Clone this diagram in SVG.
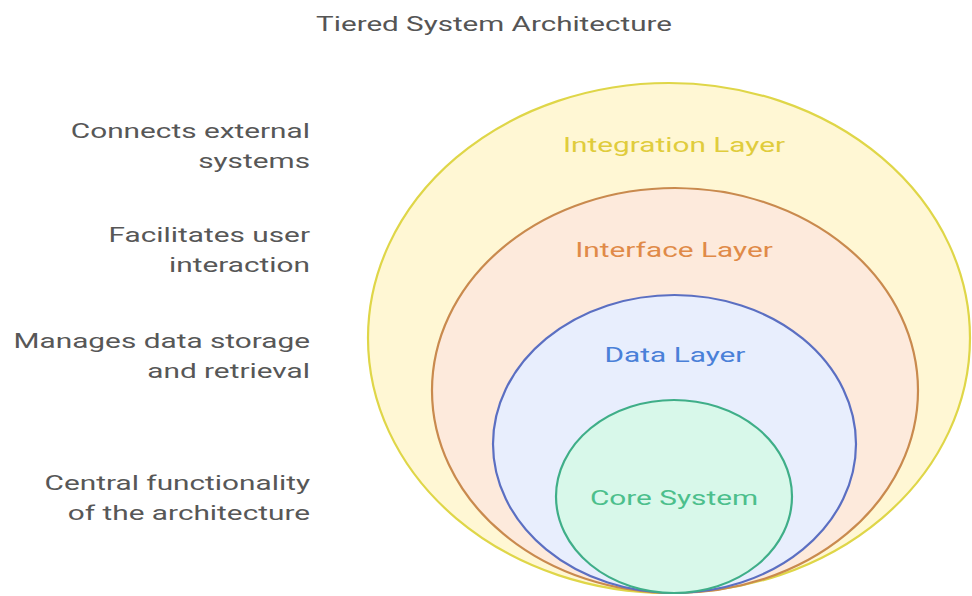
<svg xmlns="http://www.w3.org/2000/svg" width="972" height="596" viewBox="0 0 972 596">
  <style>
    .title { font-family: Roboto, "Liberation Sans", sans-serif; font-size: 20px; fill: #555555; text-anchor: middle; }
    .desc { font-family: Roboto, "Liberation Sans", sans-serif; font-size: 20px; fill: #575757; text-anchor: end; }
    .lbl { font-family: Roboto, "Liberation Sans", sans-serif; font-size: 21px; text-anchor: middle; }
    .ring { stroke-width: 2.2; }
  </style>
  <rect width="972" height="596" fill="#ffffff"/>
  <text class="title" transform="translate(494,0) scale(1.48,1)" x="0" y="31">Tiered System Architecture</text>

  <g id="integration-layer">
    <ellipse class="ring" cx="669" cy="338" rx="301" ry="255" fill="#fff7d4" stroke="#dfd648"/>
    <text class="lbl" transform="translate(674,0) scale(1.42,1)" x="0" y="152" fill="#e0cc3c">Integration Layer</text>
  </g>
  <g id="interface-layer">
    <ellipse class="ring" cx="675" cy="390.5" rx="243" ry="202.5" fill="#fdeadc" stroke="#c98a4e"/>
    <text class="lbl" transform="translate(674,0) scale(1.42,1)" x="0" y="257" fill="#e08a48">Interface Layer</text>
  </g>
  <g id="data-layer">
    <ellipse class="ring" cx="674.5" cy="444" rx="181.5" ry="149" fill="#e8eefd" stroke="#5b6fc2"/>
    <text class="lbl" transform="translate(675,0) scale(1.42,1)" x="0" y="362" fill="#4a80d8">Data Layer</text>
  </g>
  <g id="core-system">
    <ellipse class="ring" cx="674" cy="496.5" rx="118" ry="96.5" fill="#d8f8ea" stroke="#3fae88"/>
    <text class="lbl" transform="translate(674,0) scale(1.42,1)" x="0" y="505" fill="#4cbf8c">Core System</text>
  </g>

  <g id="descriptions" transform="translate(310,0) scale(1.49,1)">
    <text class="desc" x="0" y="138">Connects external</text>
    <text class="desc" x="0" y="168">systems</text>
    <text class="desc" x="0" y="242">Facilitates user</text>
    <text class="desc" x="0" y="272">interaction</text>
    <text class="desc" x="0" y="348">Manages data storage</text>
    <text class="desc" x="0" y="378">and retrieval</text>
    <text class="desc" x="0" y="490">Central functionality</text>
    <text class="desc" x="0" y="520">of the architecture</text>
  </g>
</svg>
